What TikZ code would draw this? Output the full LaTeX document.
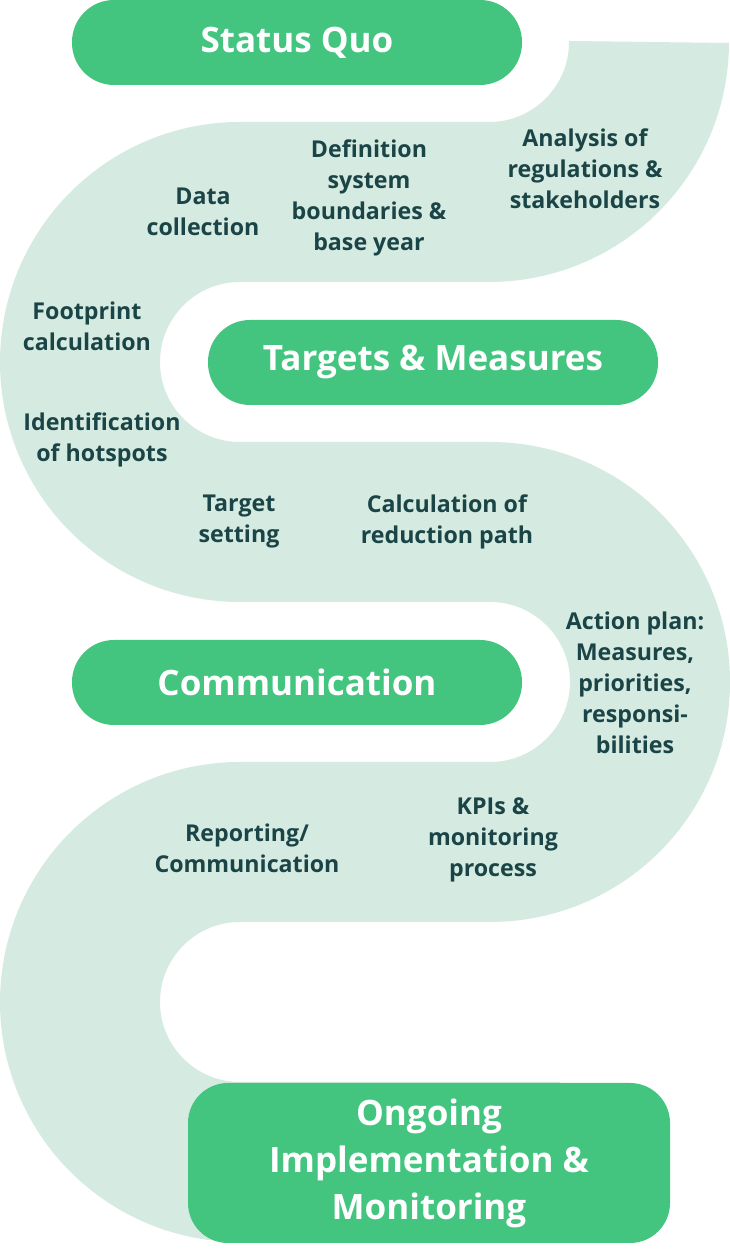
\documentclass[tikz,border=0pt]{standalone}
\usepackage{fontspec}
\setmainfont{Open Sans}
\usetikzlibrary{positioning}
\definecolor{pillgreen}{HTML}{43C57F}
\definecolor{mint}{HTML}{D5EBE1}
\definecolor{dkteal}{HTML}{1B4447}

\begin{document}
\begin{tikzpicture}[
  x=1pt, y=1pt,
  pill/.style={fill=pillgreen, text=white, align=center,
    font=\fontsize{35}{47}\selectfont\bfseries,
    minimum width=450pt, minimum height=85pt, rounded corners=42pt, inner sep=0pt},
  lbl/.style={dkteal, align=center, font=\fontsize{23.2}{31}\selectfont\bfseries, inner sep=0pt},
]

% ══════════════════════════════════════════════════════
% Canvas
% ══════════════════════════════════════════════════════
\useasboundingbox (0,0) rectangle (730,1252);

% ══════════════════════════════════════════════════════
% Winding band (centre line, radius of the turns)
% ══════════════════════════════════════════════════════
\pgfmathsetmacro{\R}{160}
\draw[mint, line width=160pt]
  (649,1210) arc[start angle=0, end angle=-90, radius=\R]
  -- (240,1050) arc[start angle=90, end angle=270, radius=\R]
  -- (490,730) arc[start angle=90, end angle=-90, radius=\R]
  -- (240,410) arc[start angle=90, end angle=270, radius=\R]
  -- (560,90);

% ══════════════════════════════════════════════════════
% Phases
% ══════════════════════════════════════════════════════
\node[pill] (statusquo) at (297,1209.5) {Status Quo};
\node[pill] (targets) at (433,889.5) {Targets \& Measures};
\node[pill] (comm) at (297,569.5) {Communication};
\node[pill, minimum width=482pt, minimum height=160pt, rounded corners=40pt]
  (ongoing) at (429,89) {Ongoing\\Implementation \&\\Monitoring};

% ══════════════════════════════════════════════════════
% Steps along the band
% ══════════════════════════════════════════════════════
\node[lbl] (datacoll) at (203,1040) {Data\\collection};
\node[lbl] (sysdef) at (369,1054) {Definition\\system\\boundaries \&\\base year};
\node[lbl] (regs) at (585,1083) {Analysis of\\regulations \&\\stakeholders};
\node[lbl] (footprint) at (87,926) {Footprint\\calculation};
\node[lbl] (hotspots) at (102,812) {Identification\\of hotspots};
\node[lbl] (tgtset) at (239,730) {Target\\setting};
\node[lbl] (redpath) at (447,730) {Calculation of\\reduction path};
\node[lbl] (actplan) at (635,569) {Action plan:\\Measures,\\priorities,\\responsi-\\bilities};
\node[lbl] (reporting) at (247,404) {Reporting/\\Communication};
\node[lbl] (kpis) at (493,412) {KPIs \&\\monitoring\\process};

\end{tikzpicture}
\end{document}
